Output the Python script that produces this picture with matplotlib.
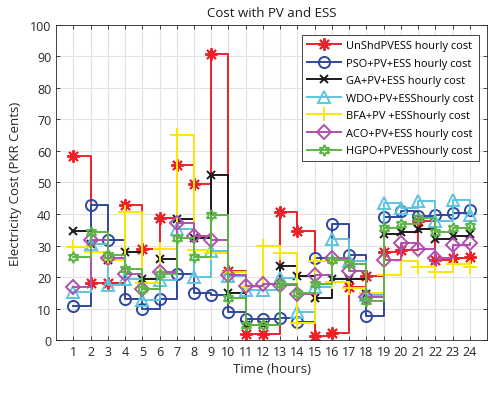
"""
Hourly electricity cost with PV and ESS for each optimisation method
stairs plot, one series per method, markers at each hour
"""
import matplotlib
matplotlib.use("Agg")
from matplotlib import pyplot as plt

plt.rcParams['font.family'] = ['Open Sans', 'DejaVu Sans']

hours = list(range(1, 25))

unshd = [58.5, 18.0, 18.2, 43.0, 28.9, 38.6, 55.4, 49.5, 90.9, 22.0, 1.8, 1.8,
         40.5, 34.7, 1.4, 2.3, 16.8, 20.4, 28.0, 28.5, 37.7, 25.5, 26.0, 26.4]
pso = [10.8, 42.7, 31.8, 12.9, 10.0, 13.2, 21.0, 15.1, 14.3, 8.9, 6.8, 6.8,
       6.9, 5.8, 25.9, 36.8, 26.9, 7.5, 39.1, 41.1, 39.5, 39.8, 40.4, 41.4]
ga = [34.6, 30.5, 25.5, 28.0, 19.4, 25.8, 38.4, 32.3, 52.4, 15.0, 4.8, 4.8,
      23.4, 20.3, 13.5, 19.4, 19.5, 14.5, 33.6, 34.3, 35.2, 32.0, 33.0, 33.8]
wdo = [15.3, 30.4, 17.5, 19.5, 12.8, 19.1, 35.1, 20.1, 28.3, 20.3, 15.8, 15.8,
       19.7, 8.8, 16.7, 32.2, 25.0, 14.3, 43.5, 42.0, 44.0, 37.7, 44.5, 39.8]
bfa = [29.4, 27.8, 25.4, 40.7, 18.2, 29.0, 65.2, 28.6, 27.5, 21.6, 16.8, 29.9,
       27.5, 5.5, 25.0, 18.3, 16.5, 15.0, 20.7, 25.0, 23.3, 21.7, 24.1, 23.3]
aco = [16.9, 31.7, 25.9, 20.9, 16.2, 21.6, 37.1, 32.9, 31.9, 20.6, 17.2, 17.7,
       17.5, 14.6, 20.8, 26.0, 22.0, 13.8, 25.5, 30.9, 28.9, 26.2, 30.2, 30.9]
hgpo = [26.4, 34.4, 26.9, 22.5, 16.2, 21.1, 32.5, 26.4, 39.7, 13.3, 4.9, 4.9,
        17.8, 15.1, 17.7, 25.4, 24.0, 12.3, 35.7, 36.7, 38.6, 34.3, 35.7, 36.2]

labels = ["UnShdPVESS hourly cost", "PSO+PV+ESS hourly cost", "GA+PV+ESS hourly cost",
          "WDO+PV+ESShourly cost", "BFA+PV +ESShourly cost", "ACO+PV+ESS hourly cost",
          "HGPO+PVESShourly cost"]

fig = plt.figure(figsize=(4.88, 4.10), dpi=100)
ax = fig.add_axes([0.115, 0.168, 0.883, 0.769])

# (values, colour, marker, size)
series = [
    (unshd, '#ee2028', (8, 2, 0), 9),
    (pso, '#2f47a0', 'o', 8),
    (ga, '#1a1a1a', 'x', 6),
    (wdo, '#5ec4e0', '^', 8),
    (bfa, '#fbe800', '+', 10),
    (aco, '#b04fae', 'D', 7),
    (hgpo, '#5db546', (6, 1, 0), 8),
]

for (vals, col, mk, ms), lab in zip(series, labels):
    ax.step(hours, vals, where='post', color=col, lw=1.4, marker=mk, ms=ms,
            mfc='none', mew=1.4, label=lab)

ax.set_xlim(0, 25)
ax.set_ylim(0, 100)
ax.set_xticks(hours)
ax.set_yticks(range(0, 101, 10))
ax.grid(True, color='#e2e2e2', lw=0.8)
ax.set_axisbelow(True)
ax.tick_params(direction='in', top=True, right=True, labelsize=9,
               colors='#262626', length=3, width=0.6)
for s in ax.spines.values():
    s.set_color('#262626')
    s.set_linewidth(0.6)

ax.set_xlabel("Time (hours)", fontsize=9.5, color='#262626', labelpad=3)
ax.set_ylabel("Electricity Cost (PKR Cents)", fontsize=9.5, color='#262626', labelpad=6)
ax.set_title("Cost with PV and ESS", fontsize=9.5, color='#1a1a1a', pad=6)

leg = ax.legend(loc='upper right', fontsize=7.9, handlelength=3.1, labelspacing=0.6,
                borderpad=0.45, handletextpad=0.4, framealpha=1, fancybox=False,
                edgecolor='#262626', bbox_to_anchor=(0.993, 0.985))
leg.get_frame().set_linewidth(0.6)

fig.savefig("out.png", dpi=100)
